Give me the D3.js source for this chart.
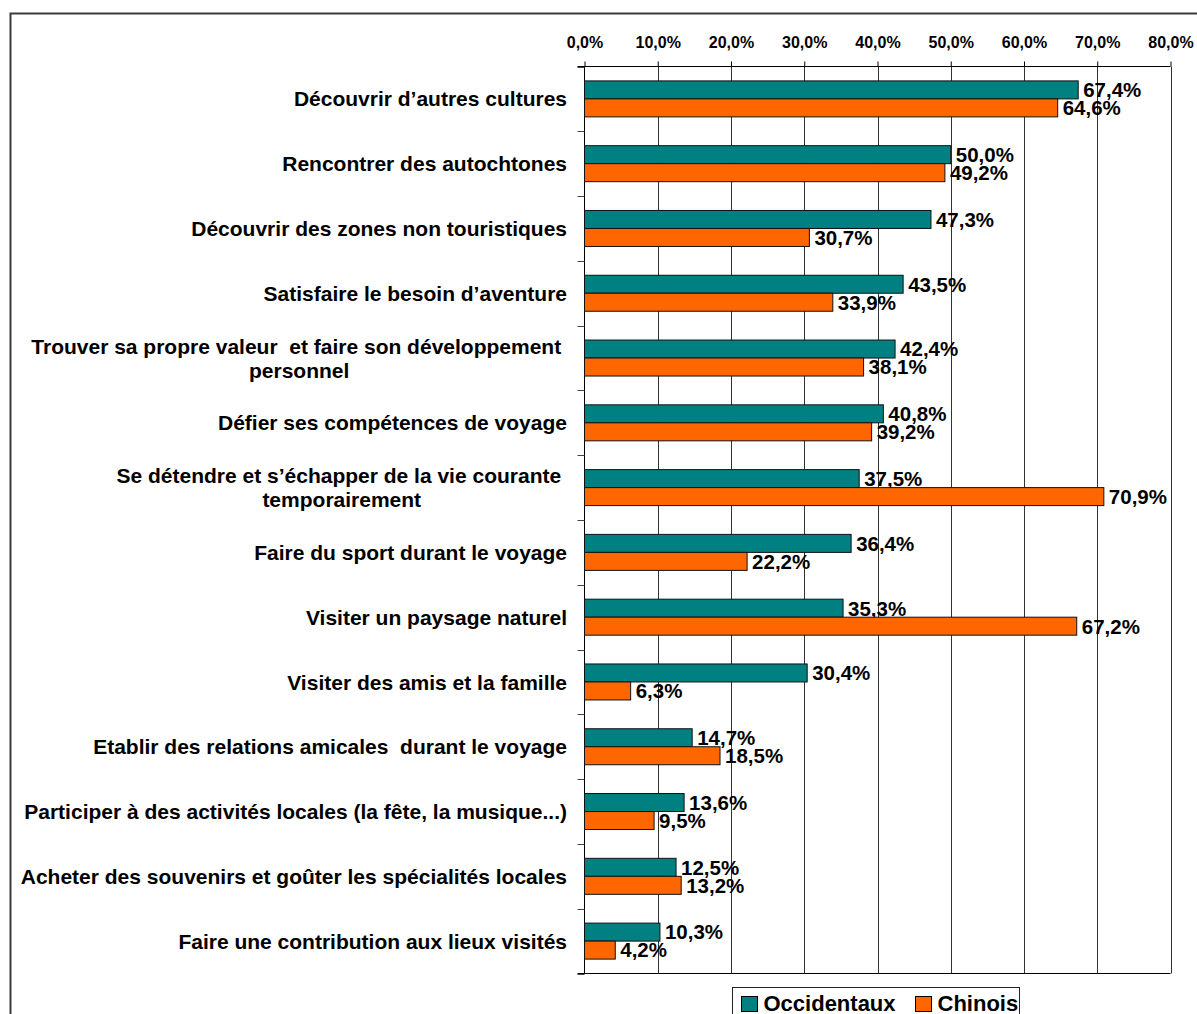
<!DOCTYPE html>
<html>
<head>
<meta charset="utf-8">
<script src="https://cdn.jsdelivr.net/npm/d3@7"></script>
<style>
  html, body { margin: 0; padding: 0; background: #fff; }
  svg { display: block; font-family: "Liberation Sans", Arial, sans-serif; }
</style>
</head>
<body>
<svg id="chart" width="1197" height="1014"></svg>
<script>
// Motivations de voyage : Occidentaux vs Chinois (% des répondants)
const categories = [
  ["Découvrir d’autres cultures"],
  ["Rencontrer des autochtones"],
  ["Découvrir des zones non touristiques"],
  ["Satisfaire le besoin d’aventure"],
  ["Trouver sa propre valeur  et faire son développement ", "personnel"],
  ["Défier ses compétences de voyage"],
  ["Se détendre et s’échapper de la vie courante ", "temporairement"],
  ["Faire du sport durant le voyage"],
  ["Visiter un paysage naturel"],
  ["Visiter des amis et la famille"],
  ["Etablir des relations amicales  durant le voyage"],
  ["Participer à des activités locales (la fête, la musique...)"],
  ["Acheter des souvenirs et goûter les spécialités locales"],
  ["Faire une contribution aux lieux visités"]
];
const occidentaux = [67.4, 50.0, 47.3, 43.5, 42.4, 40.8, 37.5, 36.4, 35.3, 30.4, 14.7, 13.6, 12.5, 10.3];
const chinois     = [64.6, 49.2, 30.7, 33.9, 38.1, 39.2, 70.9, 22.2, 67.2, 6.3, 18.5, 9.5, 13.2, 4.2];
const seriesNames = ["Occidentaux", "Chinois"];
const tickValues  = [0, 10, 20, 30, 40, 50, 60, 70, 80];

const colors = { Occidentaux: "#008080", Chinois: "#FF6600" };
const fmt = v => d3.format(".1f")(v).replace(".", ",") + "%";

const svg = d3.select("#chart");

// outer frame
svg.append("rect")
  .attr("x", 10.5).attr("y", 13.5)
  .attr("width", 1200).attr("height", 1100)
  .attr("fill", "none").attr("stroke", "#3a3a3a").attr("stroke-width", 2);

const x = d3.scaleLinear().domain([0, 80]).range([584.5, 1170.5]);
const idx = d3.range(categories.length);
const y = d3.scaleBand().domain(idx).range([66.5, 973.5]).paddingInner(0).paddingOuter(0);
const barH = 18;

// vertical gridlines
svg.append("g")
  .selectAll("line")
  .data(tickValues.slice(1))
  .join("line")
  .attr("x1", d => Math.round(x(d)) + 0.5).attr("x2", d => Math.round(x(d)) + 0.5)
  .attr("y1", y.range()[0]).attr("y2", y.range()[1])
  .attr("stroke", "#333").attr("stroke-width", 1);

// top axis
const xAxis = d3.axisTop(x)
  .tickValues(tickValues)
  .tickSize(5)
  .tickPadding(14)
  .tickFormat(fmt);
const gx = svg.append("g")
  .attr("transform", `translate(0,${y.range()[0]})`)
  .call(xAxis);
gx.select(".domain").attr("stroke", "#000").attr("d", `M${x(0) - 7},0H${x(80)}`);
gx.selectAll(".tick line").attr("stroke", "#000");
gx.selectAll(".tick text")
  .attr("fill", "#000")
  .style("font-size", "16px")
  .style("font-weight", "bold");

// left axis line and boundary ticks
svg.append("line")
  .attr("x1", x(0)).attr("x2", x(0))
  .attr("y1", y.range()[0]).attr("y2", y.range()[1])
  .attr("stroke", "#000");
svg.append("line")
  .attr("x1", x(0) - 7).attr("x2", x(80))
  .attr("y1", y.range()[1]).attr("y2", y.range()[1])
  .attr("stroke", "#000");
svg.append("g")
  .selectAll("line")
  .data(d3.range(categories.length + 1))
  .join("line")
  .attr("x1", x(0) - 7).attr("x2", x(0))
  .attr("y1", d => Math.round(y.range()[0] + d * y.bandwidth()) + 0.5)
  .attr("y2", d => Math.round(y.range()[0] + d * y.bandwidth()) + 0.5)
  .attr("stroke", "#444");

// bars
const seriesData = [occidentaux, chinois];
seriesNames.forEach((name, s) => {
  const vals = seriesData[s];
  const g = svg.append("g");
  g.selectAll("rect")
    .data(idx)
    .join("rect")
    .attr("x", x(0))
    .attr("y", i => y(i) + y.bandwidth() / 2 - barH + s * barH)
    .attr("width", i => x(vals[i]) - x(0))
    .attr("height", barH)
    .attr("fill", colors[name])
    .attr("stroke", "#111").attr("stroke-width", 1);
  g.selectAll("text")
    .data(idx)
    .join("text")
    .attr("x", i => x(vals[i]) + 5)
    .attr("y", i => y(i) + y.bandwidth() / 2 - barH / 2 + s * barH)
    .attr("dy", "0.36em")
    .style("font-size", "20.5px")
    .style("font-weight", "bold")
    .attr("fill", "#000")
    .text(i => fmt(vals[i]));
});

// category labels (right aligned; wrapped lines centred under the first)
const labelRight = 567;
const lineGap = 24;
idx.forEach(i => {
  const lines = categories[i];
  const cy = y(i) + y.bandwidth() / 2;
  const t0 = cy - (lines.length - 1) * lineGap / 2;
  const first = svg.append("text")
    .attr("x", labelRight)
    .attr("y", t0)
    .attr("dy", "0.36em")
    .attr("text-anchor", "end")
    .style("white-space", "pre")
    .style("font-size", "21px")
    .style("font-weight", "bold")
    .attr("fill", "#000")
    .text(lines[0]);
  if (lines.length > 1) {
    const w = first.node().getComputedTextLength();
    const mid = labelRight - w / 2;
    lines.slice(1).forEach((ln, k) => {
      svg.append("text")
        .attr("x", mid)
        .attr("y", t0 + (k + 1) * lineGap)
        .attr("dy", "0.36em")
        .attr("text-anchor", "middle")
        .style("font-size", "21px")
        .style("font-weight", "bold")
        .attr("fill", "#000")
        .text(ln);
    });
  }
});

// legend
const legend = svg.append("g").attr("transform", "translate(732.5,987.5)");
legend.append("rect")
  .attr("width", 287).attr("height", 40)
  .attr("fill", "#fff").attr("stroke", "#222");
const legX = [9, 183];
seriesNames.forEach((name, s) => {
  legend.append("rect")
    .attr("x", legX[s]).attr("y", 9)
    .attr("width", 16).attr("height", 15)
    .attr("fill", colors[name]).attr("stroke", "#000");
  legend.append("text")
    .attr("x", legX[s] + 22).attr("y", 16)
    .attr("dy", "0.36em")
    .style("font-size", "22px")
    .style("font-weight", "bold")
    .attr("fill", "#000")
    .text(name);
});
</script>
</body>
</html>
